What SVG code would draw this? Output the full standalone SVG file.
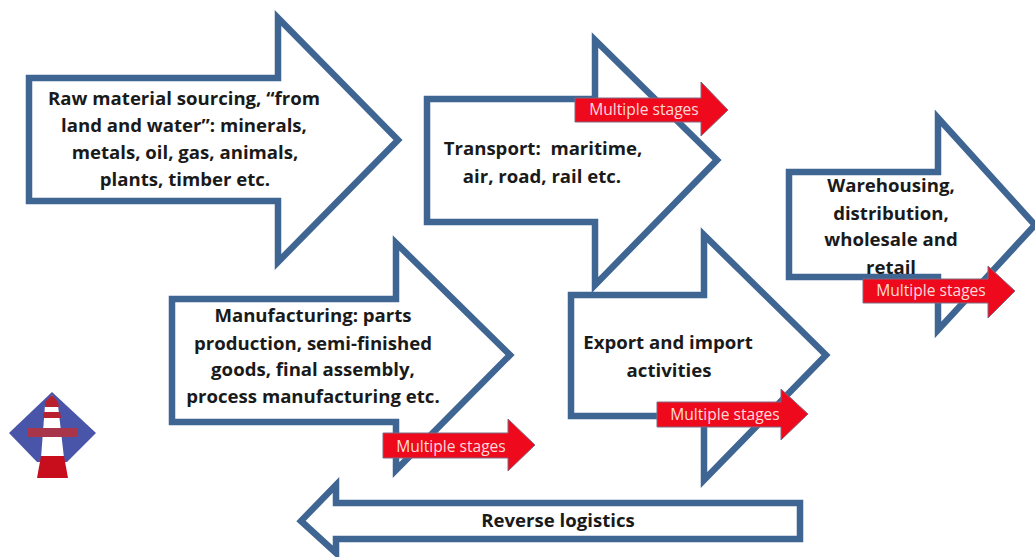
<svg xmlns="http://www.w3.org/2000/svg" width="1035" height="557" viewBox="0 0 1035 557">
<style>
.a{fill:#fff;stroke:#3f6593;stroke-width:6.5;stroke-linejoin:miter}
.r{fill:#ee0a1c;stroke:#7f6a80;stroke-width:1}
.t{font-family:"Open Sans","Liberation Sans",sans-serif;font-weight:700;font-size:18.6px;fill:#1a1a1a;text-anchor:middle;white-space:pre}
.m{font-family:"Open Sans","Liberation Sans",sans-serif;font-size:15.6px;fill:#ffd9d9;text-anchor:middle}
</style>
<defs><filter id="soft" x="-10%" y="-10%" width="120%" height="120%"><feGaussianBlur stdDeviation="0.7"/></filter></defs>
<rect width="1035" height="557" fill="#fff"/>
<g id="raw-material">
<path class="a" d="M29 78H278V18L398 140L278 262V201H29Z"/>
<text class="t"><tspan x="184" y="105">Raw material sourcing, “from</tspan><tspan x="184" y="132">land and water”: minerals,</tspan><tspan x="185" y="159">metals, oil, gas, animals,</tspan><tspan x="185" y="186">plants, timber etc.</tspan></text>
</g>
<g id="transport">
<path class="a" d="M427 99H595V40L717 160L595 285V222H427Z"/>
<text class="t"><tspan x="543" y="155">Transport:  maritime,</tspan><tspan x="542" y="183">air, road, rail etc.</tspan></text>
</g>
<g id="warehousing">
<path class="a" d="M789 172H938V118L1035 225L938 330V277H789Z"/>
<text class="t"><tspan x="891" y="192">Warehousing,</tspan><tspan x="891" y="220">distribution,</tspan><tspan x="891" y="246">wholesale and</tspan><tspan x="891" y="274">retail</tspan></text>
</g>
<g id="manufacturing">
<path class="a" d="M172 299H396V243L510 355L396 470V422H172Z"/>
<text class="t"><tspan x="313" y="322">Manufacturing: parts</tspan><tspan x="313" y="350">production, semi-finished</tspan><tspan x="313" y="376">goods, final assembly,</tspan><tspan x="313" y="403">process manufacturing etc.</tspan></text>
</g>
<g id="export-import">
<path class="a" d="M571 295H704V235L826 355L704 480V416H571Z"/>
<text class="t"><tspan x="668" y="349">Export and import</tspan><tspan x="669" y="377">activities</tspan></text>
</g>
<g id="reverse-logistics">
<path class="a" d="M800 503V539H336V553L301 521L336 485V503Z"/>
<text class="t" x="558" y="527">Reverse logistics</text>
</g>
<g id="stage-transport">
<path class="r" d="M575 98H701V82L728 110L701 136V122H575Z"/>
<text class="m" x="644" y="115">Multiple stages</text>
</g>
<g id="stage-warehousing">
<path class="r" d="M863 279H988V266L1015 291L988 318V303H863Z"/>
<text class="m" x="931" y="296">Multiple stages</text>
</g>
<g id="stage-manufacturing">
<path class="r" d="M383 433H508V419L535 445L508 471V458H383Z"/>
<text class="m" x="451" y="452">Multiple stages</text>
</g>
<g id="stage-export">
<path class="r" d="M657 402H781V389L808 414L781 440V427H657Z"/>
<text class="m" x="725" y="420">Multiple stages</text>
</g>
<g id="logo" filter="url(#soft)">
<path d="M52 392L96 433L67 462H37L9 433Z" fill="#4a55a8"/>
<path d="M45 405L52 395L58 405L64 458H41Z" fill="#fff"/>
<path d="M45 402L52 395L58 402L59 407H45Z" fill="#b8202e"/>
<path d="M44 412H60L61 418H43Z" fill="#b8202e"/>
<path d="M28 428H77V437H28Z" fill="#a8354a"/>
<path d="M41 456H64L68 478H37Z" fill="#c8101c"/>
</g>
</svg>
